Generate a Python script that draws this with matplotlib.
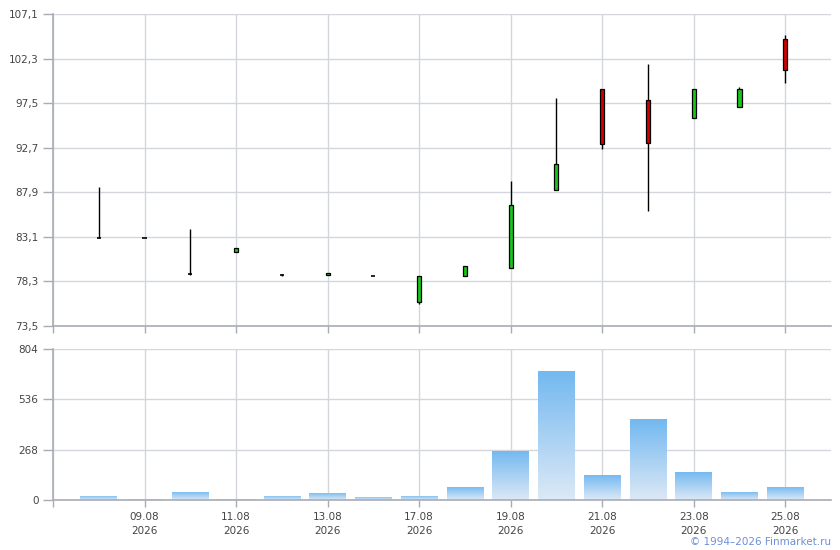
import numpy as np
import matplotlib
matplotlib.use("Agg")
import matplotlib.pyplot as plt
from matplotlib.colors import LinearSegmentedColormap

# daily candles, 16 trading days
opens = [83.0, 82.95, 79.05, 81.45, 79.0, 78.95, 78.85, 76.1,
         78.9, 79.7, 88.1, 99.0, 97.85, 95.9, 97.05, 104.4]
highs = [88.45, 82.95, 83.9, 81.85, 79.05, 79.2, 78.85, 78.85,
         79.95, 89.1, 98.1, 99.0, 101.7, 99.0, 99.2, 104.85]
lows = [82.95, 82.95, 78.95, 81.45, 78.9, 78.95, 78.85, 75.85,
        78.9, 79.7, 88.1, 92.6, 85.9, 95.9, 97.05, 99.7]
closes = [83.0, 82.95, 79.05, 81.85, 79.0, 79.2, 78.85, 78.85,
          79.95, 86.5, 90.9, 93.1, 93.2, 99.0, 99.0, 101.1]
volumes = [23, 7, 44, 7, 23, 39, 18, 23, 70, 261, 689, 134, 430, 150, 44, 70]

tick_pos = [1, 3, 5, 7, 9, 11, 13, 15]
tick_labels = ["09.08\n2026", "11.08\n2026", "13.08\n2026", "17.08\n2026",
               "19.08\n2026", "21.08\n2026", "23.08\n2026", "25.08\n2026"]
price_ticks = [73.5, 78.3, 83.1, 87.9, 92.7, 97.5, 102.3, 107.1]
vol_ticks = [0, 268, 536, 804]

GRID = "#d3d7dc"
SPINE = "#a9acb4"
TXT = "#444444"
UP = "#19c619"
DOWN = "#d40000"

fig = plt.figure(figsize=(8.4, 5.5), dpi=100)
ax1 = fig.add_axes([53 / 840, 1 - 326 / 550, 778 / 840, 312 / 550])
ax2 = fig.add_axes([53 / 840, 1 - 500 / 550, 778 / 840, 151 / 550])

x = np.arange(len(opens))


def style(ax):
    for s in ("top", "right"):
        ax.spines[s].set_visible(False)
    for s in ("left", "bottom"):
        ax.spines[s].set_color(SPINE)
        ax.spines[s].set_linewidth(1.2)
    ax.set_xlim(-1, len(opens))
    ax.set_xticks([-1] + tick_pos)
    ax.grid(True, color=GRID, linewidth=1.0)
    ax.set_axisbelow(True)
    ax.tick_params(axis="both", colors=SPINE, labelcolor=TXT, labelsize=7.5,
                   length=7, width=1)
    ax.tick_params(axis="x", length=5)


style(ax1)
style(ax2)

# candles
w = 0.09
for i in x:
    o, h, l, c = opens[i], highs[i], lows[i], closes[i]
    ax1.vlines(i, l, h, color="black", linewidth=1.0, zorder=2)
    lo, hi = min(o, c), max(o, c)
    if hi - lo < 0.05:
        ax1.hlines(o, i - w / 2, i + w / 2, color="black", linewidth=1.2, zorder=3)
    else:
        ax1.bar(i, hi - lo, bottom=lo, width=w, color=UP if c > o else DOWN,
                edgecolor="black", linewidth=0.9, zorder=3)

ax1.set_ylim(price_ticks[0], price_ticks[-1])
ax1.set_yticks(price_ticks)
ax1.set_yticklabels([f"{v:.1f}".replace(".", ",") for v in price_ticks])
ax1.set_xticklabels([])

# volume bars with vertical gradient
cmap = LinearSegmentedColormap.from_list("vol", ["#dde9f6", "#72b8f0"])
grad = np.linspace(0, 1, 256).reshape(-1, 1)
bars = ax2.bar(x, volumes, width=0.8, color="none", edgecolor="none", zorder=2)
for b, v in zip(bars, volumes):
    im = ax2.imshow(grad, extent=[b.get_x(), b.get_x() + b.get_width(), 0, v],
                    origin="lower", aspect="auto", cmap=cmap, zorder=2)
    im.set_clip_path(b)

ax2.set_xlim(-1, len(opens))
ax2.set_ylim(0, vol_ticks[-1])
ax2.set_yticks(vol_ticks)
ax2.set_xticklabels([""] + tick_labels, linespacing=1.5)

fig.text(831 / 840, 1 - 542 / 550, "\u00a9 1994\u20132026 Finmarket.ru",
         ha="right", va="center", fontsize=7.5, color="#6b8fd9")

fig.savefig("out.png", dpi=100)
